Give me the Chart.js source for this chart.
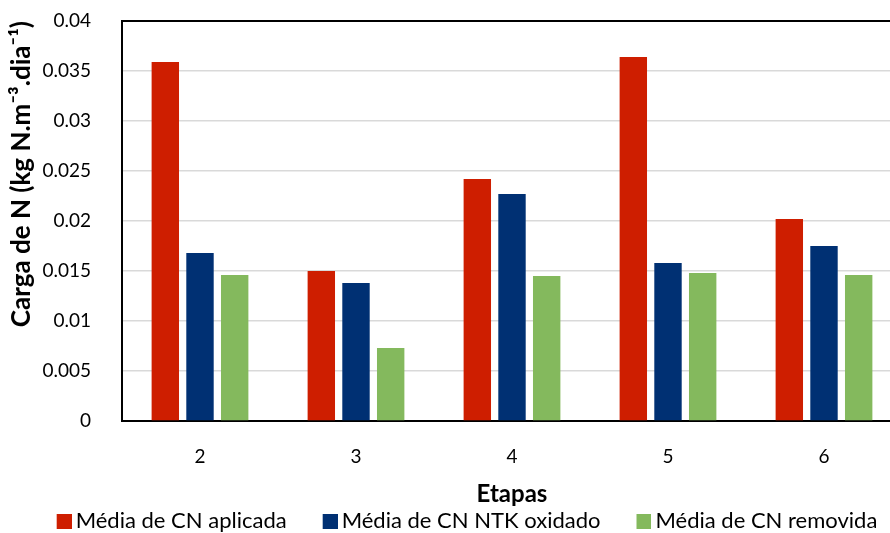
<!DOCTYPE html>
<html>
<head>
<meta charset="utf-8">
<script src="https://cdn.jsdelivr.net/npm/chart.js@4/dist/chart.umd.min.js"></script>
<style>
  html, body { margin: 0; padding: 0; background: #fff; overflow: hidden; }
  #wrap { position: relative; width: 904px; height: 533px; }
</style>
</head>
<body>
<div id="wrap"><canvas id="c"></canvas></div>
<script>
// Stages of operation and nitrogen loads (kg N.m-3.dia-1)
const etapas = ['2', '3', '4', '5', '6'];
const cnAplicada = [0.0359, 0.0150, 0.0242, 0.0364, 0.0202];
const cnOxidado = [0.0168, 0.0138, 0.0227, 0.0158, 0.0175];
const cnRemovida = [0.0146, 0.0073, 0.0145, 0.0148, 0.0146];
const yTickLabels = ['0', '0.005', '0.01', '0.015', '0.02', '0.025', '0.03', '0.035', '0.04'];

const seriesColors = ['#CE1E00', '#003073', '#84B95D'];
const FONT = 'Lato, "Liberation Sans", sans-serif';

// Legend marker: a 15px square sitting at the right end of a wider
// transparent image, which spaces the entries apart horizontally and keeps
// the square close to its text.
const SLOT_W = 40, OVERHANG = 7, MARK = 15;
function legendMarker(color) {
  const cv = document.createElement('canvas');
  cv.width = SLOT_W + 2 * OVERHANG; cv.height = MARK;
  const g = cv.getContext('2d');
  g.fillStyle = color;
  g.fillRect(cv.width - MARK, 0, MARK, MARK);
  return cv;
}
const markers = seriesColors.map(legendMarker);

new Chart(document.getElementById('c'), {
  type: 'bar',
  data: {
    labels: etapas,
    datasets: [
      { label: 'Média de CN aplicada', data: cnAplicada, backgroundColor: seriesColors[0] },
      { label: 'Média de CN NTK oxidado', data: cnOxidado, backgroundColor: seriesColors[1] },
      { label: 'Média de CN removida', data: cnRemovida, backgroundColor: seriesColors[2] }
    ]
  },
  options: {
    responsive: true,
    maintainAspectRatio: false,
    animation: false,
    devicePixelRatio: 1,
    layout: { padding: { top: 21, right: 2, left: 0, bottom: -9 } },
    datasets: { bar: { categoryPercentage: 0.667, barPercentage: 0.79 } },
    plugins: {
      tooltip: { enabled: false },
      legend: {
        position: 'bottom',
        labels: {
          font: { family: FONT, size: 22, lineHeight: 1.0 },
          color: '#000',
          usePointStyle: true,
          pointStyleWidth: SLOT_W,
          boxHeight: MARK,
          padding: 4,
          generateLabels: (chart) => {
            const items = Chart.defaults.plugins.legend.labels.generateLabels(chart);
            items.forEach((it, i) => { it.pointStyle = markers[i]; });
            return items;
          }
        }
      }
    },
    scales: {
      x: {
        afterFit: (scale) => { scale.height = 85; },
        grid: { display: false },
        border: { display: true, color: '#000', width: 2 },
        ticks: { font: { family: FONT, size: 19 }, color: '#000', padding: 16 },
        title: {
          display: true, text: 'Etapas',
          font: { family: FONT, size: 24, weight: 'bold', lineHeight: 1.0 }, color: '#000',
          padding: { top: 0, bottom: 0 }
        }
      },
      y: {
        min: 0, max: 0.04,
        afterFit: (scale) => { scale.paddingTop = 0; scale.width = 122; },
        grid: {
          drawTicks: false,
          color: (ctx) => (ctx.tick && ctx.index === yTickLabels.length - 1) ? '#000' : '#D9D9D9',
          lineWidth: (ctx) => (ctx.tick && ctx.index === yTickLabels.length - 1) ? 2 : 1.5
        },
        border: { display: true, color: '#000', width: 2 },
        ticks: {
          stepSize: 0.005,
          font: { family: FONT, size: 19 }, color: '#000', padding: 31,
          callback: (v, i) => yTickLabels[i]
        },
        title: {
          display: true, text: 'Carga de N (kg N.m⁻³.dia⁻¹)',
          align: 'end',
          font: { family: FONT, size: 26, weight: 'bold' }, color: '#000',
          padding: { top: 6, bottom: 0 }
        }
      }
    }
  }
});
</script>
</body>
</html>
